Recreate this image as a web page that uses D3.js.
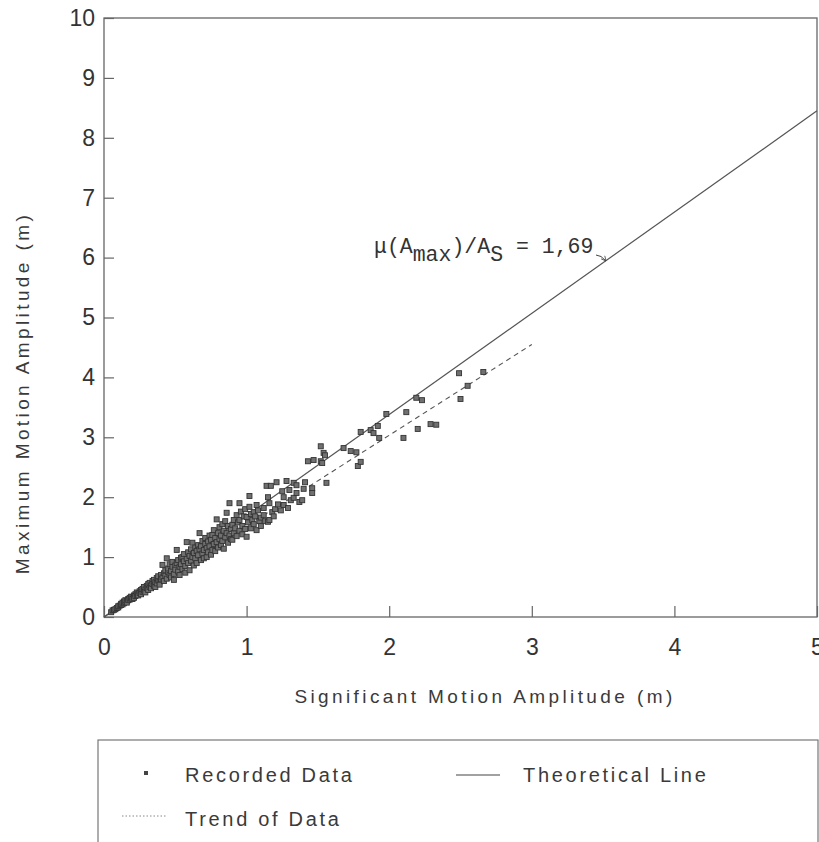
<!DOCTYPE html>
<html>
<head>
<meta charset="utf-8">
<script src="https://cdn.jsdelivr.net/npm/d3@7"></script>
<style>
  body { margin: 0; background: #fff; }
  svg { display: block; }
</style>
</head>
<body>
<div class="chart"></div>
<script>
// recorded data: significant vs maximum motion amplitude (m)
const sigAmp = [
  0.05,0.06,0.07,0.08,0.09,0.10,0.10,0.11,0.12,0.12,0.13,0.13,0.14,0.14,0.15,0.15,0.16,0.16,0.17,0.17,
  0.18,0.18,0.19,0.19,0.20,0.20,0.21,0.21,0.22,0.22,0.23,0.23,0.24,0.24,0.25,0.25,0.26,0.26,0.27,0.27,
  0.28,0.28,0.29,0.29,0.30,0.30,
  0.31,0.31,0.32,0.32,0.33,0.33,0.34,0.34,0.35,0.35,0.36,0.36,0.37,0.37,0.38,0.38,0.39,0.39,0.40,0.40,
  0.41,0.41,0.42,0.42,0.43,0.43,0.44,0.44,0.45,0.45,0.46,0.46,0.47,0.47,0.48,0.48,0.49,0.49,0.50,0.50,
  0.51,0.51,0.52,0.52,0.53,0.53,0.54,0.54,0.55,0.55,0.56,0.56,0.57,0.57,0.58,0.58,0.59,0.59,0.60,0.60,
  0.61,0.61,0.62,0.62,0.63,0.63,0.64,0.64,0.65,0.65,0.66,0.66,0.67,0.67,0.68,0.68,0.69,0.69,0.70,0.70,
  0.71,0.71,0.72,0.72,0.73,0.73,0.74,0.74,0.75,0.75,0.76,0.76,0.77,0.77,0.78,0.78,0.79,0.79,0.80,0.80,
  0.81,0.81,0.82,0.82,0.83,0.83,0.84,0.84,0.85,0.85,0.86,0.86,0.87,0.87,0.88,0.88,0.89,0.89,0.90,0.90,
  0.91,0.91,0.92,0.93,0.93,0.94,0.95,0.95,0.95,0.96,0.97,0.97,0.98,0.99,0.99,1.00,1.00,1.01,1.02,1.02,
  1.03,1.03,1.04,1.05,1.05,1.06,1.07,1.07,1.08,1.09,1.10,1.10,1.12,1.12,1.13,1.14,1.15,1.15,1.16,1.16,
  1.17,1.18,1.19,1.20,
  1.21,1.22,1.24,1.25,1.26,1.26,1.28,1.29,1.30,1.31,1.33,1.33,1.35,1.35,1.37,1.39,1.40,1.41,1.43,1.46,
  1.46,1.47,1.52,1.52,1.53,1.54,1.55,1.56,
  1.68,1.73,1.77,1.78,1.80,1.80,1.87,1.89,1.92,1.93,1.98,2.10,2.12,2.19,2.20,2.23,2.29,2.33,2.49,2.50,
  2.55,2.66
];
const maxAmp = [
  0.08,0.11,0.12,0.13,0.15,0.16,0.18,0.19,0.20,0.22,0.21,0.24,0.23,0.26,0.25,0.28,0.27,0.24,0.30,0.28,
  0.29,0.32,0.31,0.34,0.33,0.30,0.36,0.32,0.38,0.35,0.37,0.41,0.39,0.36,0.43,0.40,0.45,0.38,0.42,0.47,
  0.44,0.50,0.46,0.41,0.52,0.48,
  0.55,0.45,0.50,0.57,0.53,0.48,0.60,0.55,0.52,0.62,0.58,0.50,0.65,0.56,0.61,0.68,0.59,0.54,0.70,0.63,
  0.66,0.87,0.60,0.73,0.69,0.78,0.98,0.64,0.75,0.81,0.70,0.88,0.77,0.66,0.84,0.92,0.72,0.62,0.86,0.79,
  1.12,0.90,0.76,0.95,0.84,0.70,0.99,0.88,1.00,0.80,0.93,1.05,0.85,0.74,1.25,0.97,1.08,0.90,0.78,1.02,
  1.13,0.94,1.24,1.00,0.86,1.07,1.16,0.98,1.10,0.90,1.20,1.03,1.40,1.13,0.95,1.18,1.06,1.27,1.12,0.98,
  1.22,1.32,1.00,1.15,1.26,1.08,1.36,1.18,1.04,1.29,1.37,1.12,1.22,1.45,1.10,1.32,1.63,1.25,1.40,1.16,
  1.30,1.50,1.20,1.36,1.55,1.27,1.44,1.14,1.33,1.60,1.74,1.40,1.24,1.52,1.90,1.36,1.47,1.30,1.54,1.29,
  1.62,1.40,1.48,1.70,1.35,1.58,1.90,1.62,1.44,1.76,1.52,1.38,1.68,1.80,1.47,1.67,1.34,1.58,2.02,1.84,
  1.72,1.48,1.62,1.75,1.55,1.68,1.87,1.45,1.78,1.60,1.66,1.52,1.70,1.82,1.60,2.19,2.00,1.59,1.90,1.62,
  2.19,1.75,1.68,1.80,
  2.25,1.88,1.78,2.10,2.00,1.87,2.27,1.82,2.12,1.95,2.24,1.99,2.20,2.07,1.92,1.95,2.14,2.25,2.60,2.15,
  2.07,2.62,2.85,2.60,2.57,2.74,2.70,2.24,
  2.82,2.77,2.75,2.52,2.59,3.09,3.12,3.07,3.19,2.99,3.39,2.99,3.42,3.66,3.14,3.62,3.22,3.21,4.07,3.64,
  3.86,4.09
];
// lines: theoretical ratio 1.69 and trend of data
const theoLine = [[0, 0], [5, 8.45]];
const trendLine = [[0, 0], [3, 4.55]];
const xTicks = [0, 1, 2, 3, 4, 5];
const yTicks = [0, 1, 2, 3, 4, 5, 6, 7, 8, 9, 10];

const width = 819, height = 842;
const svg = d3.select('.chart')
              .append('svg')
              .attr('width', width)
              .attr('height', height);

const x = d3.scaleLinear().domain([0, 5]).range([104, 817]);
const y = d3.scaleLinear().domain([0, 10]).range([617, 18]);

const sans = '"Liberation Sans", Arial, sans-serif';

// frame
svg.append('rect')
   .attr('x', x(0)).attr('y', y(10))
   .attr('width', x(5) - x(0)).attr('height', y(0) - y(10))
   .attr('fill', 'none').attr('stroke', '#666').attr('stroke-width', 1.3);

// axes, ticks pointing inward
const xAxis = svg.append('g')
   .attr('transform', `translate(0,${y(0)})`)
   .call(d3.axisBottom(x).tickValues(xTicks).tickFormat(d3.format('d'))
           .tickSizeInner(-11).tickSizeOuter(0).tickPadding(22));
const yAxis = svg.append('g')
   .attr('transform', `translate(${x(0)},0)`)
   .call(d3.axisLeft(y).tickValues(yTicks).tickFormat(d3.format('d'))
           .tickSizeInner(-10).tickSizeOuter(0).tickPadding(9));

[xAxis, yAxis].forEach(function(g) {
  g.select('.domain').remove();
  g.selectAll('line').attr('stroke', '#666').attr('stroke-width', 1.2);
  g.selectAll('text')
   .attr('fill', '#333')
   .style('font-family', sans)
   .style('font-size', '23px');
});

// axis titles
svg.append('text')
   .attr('x', 485).attr('y', 703)
   .attr('text-anchor', 'middle')
   .attr('fill', '#3a3a3a')
   .style('font-family', sans)
   .style('font-size', '19px')
   .style('letter-spacing', '3.4px')
   .text('Significant Motion Amplitude (m)');
svg.append('text')
   .attr('transform', 'translate(29,393) rotate(-90)')
   .attr('text-anchor', 'middle')
   .attr('fill', '#3a3a3a')
   .style('font-family', sans)
   .style('font-size', '19px')
   .style('letter-spacing', '3.4px')
   .text('Maximum Motion Amplitude (m)');

const line = d3.line().x(d => x(d[0])).y(d => y(d[1]));

svg.append('path')
   .datum(theoLine)
   .attr('d', line)
   .attr('fill', 'none').attr('stroke', '#555').attr('stroke-width', 1.2);
svg.append('path')
   .datum(trendLine)
   .attr('d', line)
   .attr('fill', 'none').attr('stroke', '#555').attr('stroke-width', 1.1)
   .attr('stroke-dasharray', '5,4');

// recorded points
const pts = sigAmp.map((v, i) => [v, maxAmp[i]]);
svg.append('g')
   .selectAll('rect')
   .data(pts)
   .enter()
   .append('rect')
   .attr('x', d => x(d[0]) - 2.5)
   .attr('y', d => y(d[1]) - 2.5)
   .attr('width', 5).attr('height', 5)
   .attr('fill', '#707070')
   .attr('stroke', '#333')
   .attr('stroke-width', 0.9);

// annotation
const ann = svg.append('text')
   .attr('x', 374).attr('y', 253)
   .attr('fill', '#333')
   .style('font-family', '"Liberation Mono", "Courier New", monospace')
   .style('font-size', '21.5px');
ann.append('tspan').text('\u03bc(A');
ann.append('tspan').attr('dy', 8).text('max');
ann.append('tspan').attr('dy', -8).text(')/A');
ann.append('tspan').attr('dy', 8).text('S');
ann.append('tspan').attr('dy', -8).text(' = 1,69');

svg.append('defs').append('marker')
   .attr('id', 'arr').attr('viewBox', '0 0 10 10')
   .attr('refX', 9).attr('refY', 5)
   .attr('markerWidth', 6).attr('markerHeight', 6)
   .attr('orient', 'auto')
   .append('path').attr('d', 'M1,1L9,5L1,9').attr('fill', 'none').attr('stroke', '#444').attr('stroke-width', 1.3);
svg.append('path')
   .attr('d', 'M596,255 Q601,255 606,261')
   .attr('fill', 'none').attr('stroke', '#444').attr('stroke-width', 1)
   .attr('marker-end', 'url(#arr)');

// legend
const leg = svg.append('g');
leg.append('rect')
   .attr('x', 98).attr('y', 740).attr('width', 720).attr('height', 110)
   .attr('fill', 'none').attr('stroke', '#777').attr('stroke-width', 1.2);
leg.append('rect')
   .attr('x', 144).attr('y', 771).attr('width', 4).attr('height', 4)
   .attr('fill', '#444');
leg.append('line')
   .attr('x1', 456).attr('x2', 500).attr('y1', 775).attr('y2', 775)
   .attr('stroke', '#444').attr('stroke-width', 1.2);
leg.append('line')
   .attr('x1', 122).attr('x2', 166).attr('y1', 816).attr('y2', 816)
   .attr('stroke', '#888').attr('stroke-width', 1)
   .attr('stroke-dasharray', '1.5,2');
const legItems = [['Recorded Data', 185, 782], ['Theoretical Line', 523, 782], ['Trend of Data', 185, 826]];
leg.selectAll('text.lg')
   .data(legItems)
   .enter()
   .append('text')
   .attr('class', 'lg')
   .attr('x', d => d[1]).attr('y', d => d[2])
   .attr('fill', '#3a3a3a')
   .style('font-family', sans)
   .style('font-size', '20px')
   .style('letter-spacing', '2.7px')
   .text(d => d[0]);
</script>
</body>
</html>
